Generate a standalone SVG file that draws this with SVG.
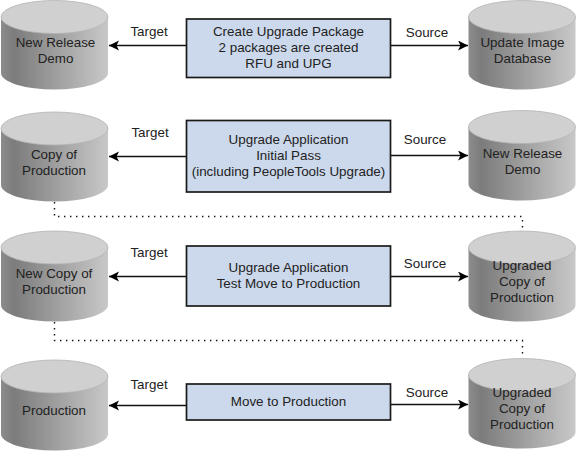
<svg xmlns="http://www.w3.org/2000/svg" width="576" height="451" viewBox="0 0 576 451">
<style>
text{font-family:"Liberation Sans",Arial,sans-serif;font-size:13.4px;fill:#222;text-anchor:middle}
.body{fill:url(#cyl)}
.top{fill:#d0d0d0;stroke:#b4b4b4;stroke-width:.8}
.box{fill:#ccd9ec;stroke:#1a1a1a;stroke-width:1.7}
.arrow{fill:none;stroke:#111;stroke-width:1.4;marker-end:url(#head)}
.dots{fill:none;stroke:#111;stroke-width:1.4;stroke-dasharray:1.4 4.6}
</style>
<defs>
<linearGradient id="cyl" x1="0" x2="1" y1="0" y2="0">
<stop offset="0" stop-color="#8c8c8c"/><stop offset=".12" stop-color="#7c7c7c"/><stop offset=".6" stop-color="#a6a6a6"/><stop offset="1" stop-color="#c8c8c8"/>
</linearGradient>
<marker id="head" markerUnits="userSpaceOnUse" markerWidth="12" markerHeight="12" refX="10" refY="5" orient="auto">
<path d="M0 0L10 5L0 10L2.500 5Z" fill="#000"/>
</marker>
</defs>
<rect width="576" height="451" fill="#fff"/>
<g id="connectors">
<path class="arrow" d="M186 45.500H109"/>
<path class="arrow" d="M391 45.500H468"/>
<path class="arrow" d="M186 156.500H109"/>
<path class="arrow" d="M391 155.500H468"/>
<path class="arrow" d="M186 276.500H109"/>
<path class="arrow" d="M391 276.500H468"/>
<path class="arrow" d="M186 405.500H109"/>
<path class="arrow" d="M391 404.500H468"/>
<path class="dots" d="M54.500 202V216.500H522.500V231"/>
<path class="dots" d="M54.500 322V340.500H522.500V358"/>
</g>
<g id="db-new-release-demo-1"><path class="body" d="M1 17V73A53.500 16.500 0 0 0 108 73V17Z"/><ellipse class="top" cx="54.500" cy="17" rx="53.500" ry="16.500"/><text x="55.500" y="47">New Release</text><text x="55.500" y="63">Demo</text></g>
<g id="db-update-image"><path class="body" d="M468.500 17V73A53.500 16.500 0 0 0 575.500 73V17Z"/><ellipse class="top" cx="522" cy="17" rx="53.500" ry="16.500"/><text x="522.500" y="47">Update Image</text><text x="522.500" y="63">Database</text></g>
<g id="db-copy-of-production"><path class="body" d="M1 129V185A53.500 16.500 0 0 0 108 185V129Z"/><ellipse class="top" cx="54.500" cy="128.500" rx="53.500" ry="16.500"/><text x="54" y="159">Copy of</text><text x="54" y="175">Production</text></g>
<g id="db-new-release-demo-2"><path class="body" d="M468.500 127V184A53.500 16.500 0 0 0 575.500 184V127Z"/><ellipse class="top" cx="522" cy="127" rx="53.500" ry="16.500"/><text x="522.500" y="158">New Release</text><text x="522.500" y="174">Demo</text></g>
<g id="db-new-copy-of-production"><path class="body" d="M1 248V305A53.500 16.500 0 0 0 108 305V248Z"/><ellipse class="top" cx="54.500" cy="247.500" rx="53.500" ry="16.500"/><text x="54" y="278">New Copy of</text><text x="54" y="294">Production</text></g>
<g id="db-upgraded-1"><path class="body" d="M468.500 248V305A53.500 16.500 0 0 0 575.500 305V248Z"/><ellipse class="top" cx="522" cy="247.500" rx="53.500" ry="16.500"/><text x="522" y="270">Upgraded</text><text x="522" y="286">Copy of</text><text x="522" y="302">Production</text></g>
<g id="db-production"><path class="body" d="M1 377V434A53.500 16.500 0 0 0 108 434V377Z"/><ellipse class="top" cx="54.500" cy="376.500" rx="53.500" ry="16.500"/><text x="54" y="415">Production</text></g>
<g id="db-upgraded-2"><path class="body" d="M468.500 375V432A53.500 16.500 0 0 0 575.500 432V375Z"/><ellipse class="top" cx="522" cy="375" rx="53.500" ry="16.500"/><text x="522" y="397">Upgraded</text><text x="522" y="413">Copy of</text><text x="522" y="429">Production</text></g>
<g id="box-create"><rect class="box" x="186.500" y="19" width="204" height="58.500"/><text x="288.500" y="36">Create Upgrade Package</text><text x="288.500" y="52">2 packages are created</text><text x="288.500" y="68">RFU and UPG</text></g>
<g id="box-initial"><rect class="box" x="186.500" y="120.500" width="204" height="71.500"/><text x="288.500" y="144">Upgrade Application</text><text x="288.500" y="160">Initial Pass</text><text x="288.500" y="176">(including PeopleTools Upgrade)</text></g>
<g id="box-test"><rect class="box" x="186.500" y="246" width="204" height="60"/><text x="288.500" y="272">Upgrade Application</text><text x="288.500" y="288">Test Move to Production</text></g>
<g id="box-move"><rect class="box" x="186.500" y="384" width="204" height="36"/><text x="288.500" y="406">Move to Production</text></g>
<g id="labels">
<text x="149" y="36">Target</text><text x="427" y="37">Source</text>
<text x="150" y="137">Target</text><text x="425" y="144">Source</text>
<text x="149" y="257">Target</text><text x="425" y="268">Source</text>
<text x="149" y="389">Target</text><text x="427" y="397">Source</text>
</g>
</svg>
